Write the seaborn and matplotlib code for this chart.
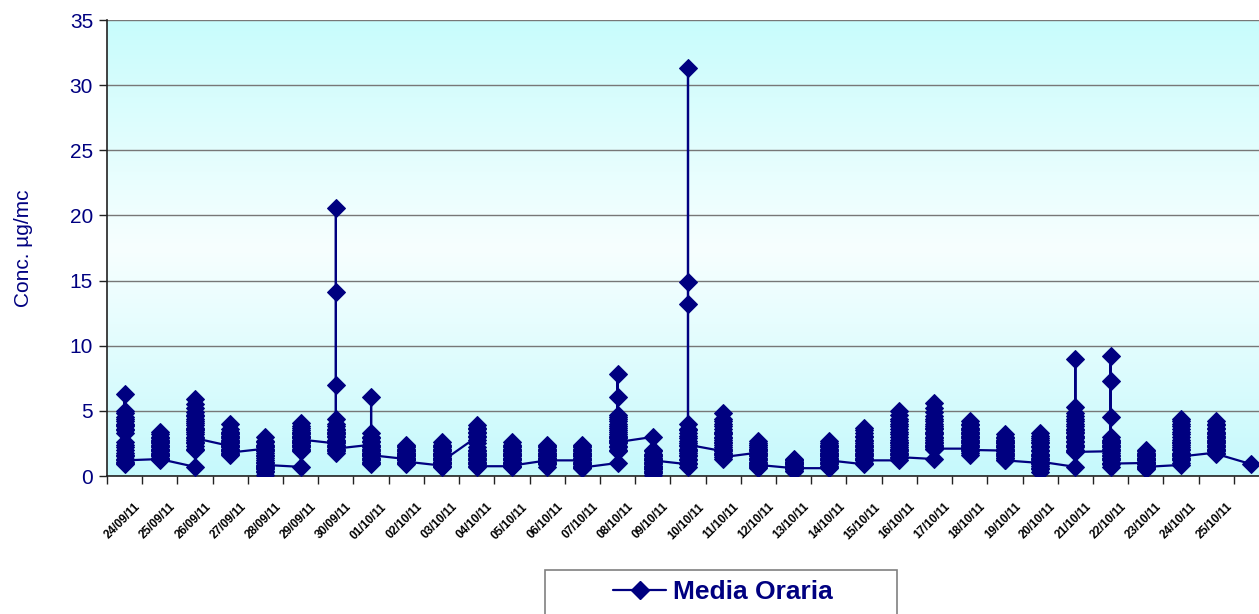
import matplotlib
matplotlib.use("Agg")
import matplotlib.pyplot as plt
import numpy as np
import pandas as pd
import seaborn as sns
from matplotlib.colors import LinearSegmentedColormap
from matplotlib.lines import Line2D
from matplotlib.patches import Rectangle
from matplotlib.transforms import ScaledTranslation

# giorni di misura (33 categorie sull'asse x, le prime 32 hanno l'etichetta)
giorni = pd.date_range("2011-09-24", "2011-10-26", freq="D").strftime("%d/%m/%y").tolist()
etichette = giorni[:32]

# medie orarie per giorno (in ordine di ora)
media_oraria = [
    [3.8, 4.2, 4.8, 6.3, 5.0, 4.5, 4.0, 3.6, 3.3, 2.4, 2.0, 1.8, 1.6, 1.3, 1.0, 0.9, 1.1, 1.5, 2.2, 2.6, 3.9, 4.4, 3.5, 1.2],
    [1.3, 1.5, 1.8, 2.1, 2.4, 2.7, 3.0, 3.4, 3.2, 2.9, 2.6, 2.3, 2.0, 1.7, 1.4, 1.2, 1.6, 1.9, 2.2, 2.5, 2.8, 2.0, 1.6, 1.3],
    [0.7, 2.1, 2.5, 3.0, 3.6, 4.1, 4.6, 5.2, 5.9, 5.5, 4.9, 4.4, 3.9, 3.4, 2.8, 2.3, 2.0, 2.6, 3.2, 3.7, 4.2, 4.7, 3.5, 2.9],
    [2.3, 2.6, 3.0, 3.4, 4.0, 3.6, 3.2, 2.8, 2.4, 2.0, 1.7, 1.6, 1.9, 2.2, 2.5, 2.9, 3.3, 3.1, 2.7, 2.3, 2.1, 1.9, 2.0, 1.8],
    [2.1, 2.4, 2.7, 3.0, 2.6, 2.2, 1.8, 1.4, 1.0, 0.6, 0.3, 0.1, 0.4, 0.8, 1.2, 1.6, 2.0, 2.3, 1.9, 1.5, 1.1, 0.7, 0.5, 0.85],
    [0.7, 2.0, 2.3, 2.6, 3.0, 3.3, 3.7, 4.1, 3.8, 3.4, 3.1, 2.7, 2.4, 2.1, 1.9, 2.2, 2.5, 2.9, 3.2, 3.5, 3.0, 2.6, 2.4, 2.8],
    [2.5, 2.2, 1.9, 1.8, 2.3, 2.8, 3.2, 3.5, 3.8, 4.4, 7.0, 14.1, 20.6, 4.0, 3.6, 3.3, 3.0, 2.7, 2.4, 2.0, 2.6, 3.1, 3.4, 2.1],
    [2.4, 2.1, 1.8, 1.5, 1.2, 0.9, 1.1, 1.4, 1.7, 2.0, 2.3, 2.6, 2.9, 3.3, 6.1, 3.0, 2.7, 2.2, 1.9, 1.6, 1.3, 1.0, 1.8, 1.6],
    [1.3, 1.6, 1.9, 2.2, 2.4, 2.1, 1.8, 1.5, 1.2, 0.9, 1.0, 1.4, 1.7, 2.0, 2.3, 1.9, 1.6, 1.3, 1.0, 1.2, 1.5, 1.8, 1.4, 1.1],
    [0.8, 1.1, 1.4, 1.7, 2.0, 2.3, 2.6, 2.4, 2.1, 1.8, 1.5, 1.2, 0.9, 0.7, 1.0, 1.3, 1.6, 1.9, 2.2, 1.7, 1.4, 1.0, 0.8, 1.1],
    [3.0, 3.3, 3.6, 3.9, 3.7, 3.4, 3.1, 2.8, 2.5, 2.2, 1.9, 1.6, 1.3, 1.0, 0.7, 0.9, 1.2, 1.5, 1.8, 2.0, 1.7, 1.4, 1.1, 0.75],
    [0.75, 1.0, 1.3, 1.6, 1.9, 2.2, 2.6, 2.4, 2.1, 1.8, 1.5, 1.2, 0.9, 0.7, 1.1, 1.4, 1.7, 2.0, 2.3, 1.9, 1.6, 1.3, 1.0, 0.8],
    [1.2, 1.5, 1.8, 2.1, 2.4, 2.2, 1.9, 1.6, 1.3, 1.0, 0.7, 0.9, 1.1, 1.4, 1.7, 2.0, 2.3, 1.8, 1.5, 1.2, 0.9, 1.0, 1.4, 1.2],
    [1.2, 1.5, 1.8, 2.1, 2.4, 2.2, 1.9, 1.6, 1.3, 1.0, 0.7, 0.9, 1.1, 1.4, 1.7, 2.0, 2.3, 1.8, 1.5, 1.2, 0.9, 0.6, 0.8, 0.65],
    [1.0, 2.0, 2.3, 2.7, 3.0, 3.4, 3.7, 4.0, 4.4, 4.7, 6.1, 7.8, 4.5, 4.2, 3.8, 3.5, 3.2, 2.9, 2.5, 2.2, 1.9, 2.8, 3.1, 2.6],
    [3.0, 2.0, 1.7, 1.4, 1.1, 0.8, 0.5, 0.2, 0.1, 0.4, 0.7, 1.0, 1.3, 1.6, 1.9, 1.5, 1.2, 0.9, 0.6, 0.3, 0.5, 0.8, 1.5, 1.2],
    [0.9, 1.2, 1.5, 1.8, 2.1, 2.5, 2.9, 3.3, 3.6, 4.0, 13.2, 14.9, 31.3, 3.5, 3.1, 2.7, 2.3, 1.9, 1.6, 1.3, 1.0, 0.7, 2.0, 2.4],
    [1.9, 2.2, 2.6, 3.0, 3.4, 3.8, 4.2, 4.8, 4.4, 4.0, 3.6, 3.2, 2.8, 2.4, 2.0, 1.6, 1.3, 1.7, 2.1, 2.5, 2.9, 3.3, 1.8, 1.45],
    [1.8, 2.1, 2.4, 2.7, 2.5, 2.2, 1.9, 1.6, 1.3, 1.0, 0.7, 0.6, 0.9, 1.2, 1.5, 1.8, 2.1, 2.4, 2.0, 1.7, 1.4, 1.1, 0.8, 0.85],
    [0.6, 0.8, 1.0, 1.2, 1.3, 1.1, 0.9, 0.7, 0.5, 0.4, 0.6, 0.8, 1.0, 1.2, 1.1, 0.9, 0.7, 0.5, 0.4, 0.6, 0.9, 1.1, 0.8, 0.6],
    [0.6, 0.9, 1.2, 1.5, 1.8, 2.1, 2.4, 2.7, 2.5, 2.2, 1.9, 1.6, 1.3, 1.0, 0.7, 0.8, 1.1, 1.4, 1.7, 2.0, 2.3, 1.8, 1.5, 1.2],
    [0.9, 1.2, 1.5, 1.8, 2.1, 2.4, 2.7, 3.0, 3.3, 3.7, 3.5, 3.1, 2.8, 2.5, 2.2, 1.9, 1.6, 1.3, 1.0, 1.4, 1.7, 2.0, 2.3, 1.2],
    [1.2, 1.6, 2.0, 2.4, 2.8, 3.2, 3.6, 4.0, 4.4, 5.0, 4.7, 4.2, 3.8, 3.4, 3.0, 2.6, 2.2, 1.8, 1.4, 1.7, 2.1, 2.5, 1.9, 1.45],
    [1.3, 2.2, 2.6, 3.0, 3.4, 3.8, 4.2, 4.6, 4.9, 5.6, 5.2, 4.4, 4.0, 3.6, 3.2, 2.8, 2.4, 2.1, 2.5, 2.9, 3.3, 3.7, 2.3, 2.1],
    [2.1, 2.4, 2.8, 3.2, 3.6, 3.9, 4.2, 4.0, 3.7, 3.4, 3.0, 2.6, 2.2, 1.9, 1.6, 1.8, 2.3, 2.7, 3.1, 3.5, 3.3, 2.9, 2.5, 2.0],
    [1.95, 2.2, 2.5, 2.8, 3.2, 3.0, 2.7, 2.4, 2.1, 1.8, 1.5, 1.2, 1.4, 1.7, 2.0, 2.3, 2.6, 2.9, 2.5, 2.2, 1.9, 1.6, 1.4, 1.2],
    [1.0, 1.3, 1.6, 1.9, 2.2, 2.5, 2.8, 3.1, 3.3, 2.9, 2.6, 2.3, 2.0, 1.7, 1.4, 1.1, 0.8, 0.5, 0.3, 0.6, 0.9, 1.2, 1.5, 1.1],
    [0.7, 1.9, 2.2, 2.6, 2.9, 3.3, 3.6, 4.0, 4.4, 4.8, 5.3, 9.0, 4.6, 4.2, 3.8, 3.4, 3.1, 2.7, 2.4, 2.0, 2.3, 3.0, 3.5, 1.85],
    [1.9, 2.2, 2.5, 2.8, 3.0, 4.5, 7.3, 9.2, 2.7, 2.4, 2.1, 1.8, 1.5, 1.2, 0.9, 0.7, 1.0, 1.3, 1.6, 2.0, 2.3, 2.6, 1.4, 0.95],
    [1.0, 1.2, 1.4, 1.6, 1.8, 2.0, 1.9, 1.7, 1.5, 1.3, 1.1, 0.9, 0.7, 0.5, 0.6, 0.8, 1.0, 1.2, 1.4, 1.6, 1.3, 1.1, 0.9, 0.7],
    [0.85, 1.2, 1.6, 2.0, 2.4, 2.8, 3.2, 3.6, 4.0, 4.4, 4.2, 3.8, 3.4, 3.0, 2.6, 2.2, 1.8, 1.4, 1.0, 1.3, 1.7, 2.1, 2.5, 1.5],
    [1.8, 2.1, 2.4, 2.7, 3.0, 3.3, 3.6, 3.9, 4.2, 4.0, 3.7, 3.4, 3.1, 2.8, 2.5, 2.2, 1.9, 2.0, 2.3, 2.6, 2.9, 3.2, 2.0, 1.7],
    [0.9],
]

navy = "#000080"

rows = []
for i, vals in enumerate(media_oraria):
    for v in vals:
        rows.append({"giorno": i, "conc": v})
df = pd.DataFrame(rows)

sns.set_theme(style="white")
plt.rcParams["font.family"] = ["Liberation Sans", "DejaVu Sans"]

fig = plt.figure(figsize=(12.59, 6.14), dpi=100)
ax = fig.add_axes([107 / 1259, 138 / 614, 1162 / 1259, 456 / 614])

n = len(giorni)
ax.set_xlim(-0.5, n - 0.5)

# sfondo sfumato azzurro
cmap = LinearSegmentedColormap.from_list(
    "sfondo", [(0, "#c6f9fc"), (0.5, "#f7ffff"), (1, "#c8fcfc")])
grad = np.linspace(0, 1, 256).reshape(-1, 1)
ax.imshow(grad, cmap=cmap, aspect="auto", extent=(-0.5, n - 0.5, 35, 0),
          origin="upper", zorder=0)
ax.set_ylim(0, 35)

ax.set_axisbelow(True)
ax.yaxis.grid(True, color="#777777", linewidth=1.0)
ax.xaxis.grid(False)

sns.lineplot(data=df, x="giorno", y="conc", sort=False, estimator=None,
             color=navy, linewidth=1.6, marker="D", markersize=9,
             markeredgecolor=navy, markerfacecolor=navy, ax=ax, zorder=3)

ax.set_xlabel("")
ax.set_ylabel("Conc. µg/mc", color=navy, fontsize=15)
ax.yaxis.set_label_coords(-74 / 1162, 0.5)

ax.set_yticks(range(0, 36, 5))
ax.tick_params(axis="y", colors="#222222", labelcolor=navy, labelsize=15,
               length=6, width=1, direction="out", pad=4, left=True)

ax.set_xticks(range(len(etichette)))
ax.set_xticklabels(etichette)
ax.set_xticks(np.arange(-0.5, n, 1), minor=True)
ax.tick_params(axis="x", which="major", length=0, pad=21, labelsize=8.5,
               labelcolor="black")
ax.tick_params(axis="x", which="minor", length=6, width=1, color="#222222",
               bottom=True)
off = ScaledTranslation(14 / 100, 0, fig.dpi_scale_trans)
for lab in ax.get_xticklabels():
    lab.set_rotation(45)
    lab.set_ha("right")
    lab.set_va("center")
    lab.set_rotation_mode("anchor")
    lab.set_fontweight("bold")
    lab.set_transform(lab.get_transform() + off)

for s in ["top", "right"]:
    ax.spines[s].set_visible(False)
for s in ["left", "bottom"]:
    ax.spines[s].set_color("#222222")
    ax.spines[s].set_linewidth(1.2)

# riquadro legenda
fig.patches.append(Rectangle((545 / 1259, -0.05), 352 / 1259, 0.05 + 44 / 614,
                             transform=fig.transFigure, facecolor="white",
                             edgecolor="#808080", linewidth=1.2, zorder=1))
handle = Line2D([], [], color=navy, linewidth=1.6, marker="D", markersize=9)
fig.legend([handle], ["Media Oraria"], loc="center",
           bbox_to_anchor=(723 / 1259, 1 - 592 / 614), frameon=False,
           prop={"weight": "bold", "size": 19}, labelcolor=navy,
           handlelength=2.0, handletextpad=0.25)

fig.savefig("out.png", dpi=100)
